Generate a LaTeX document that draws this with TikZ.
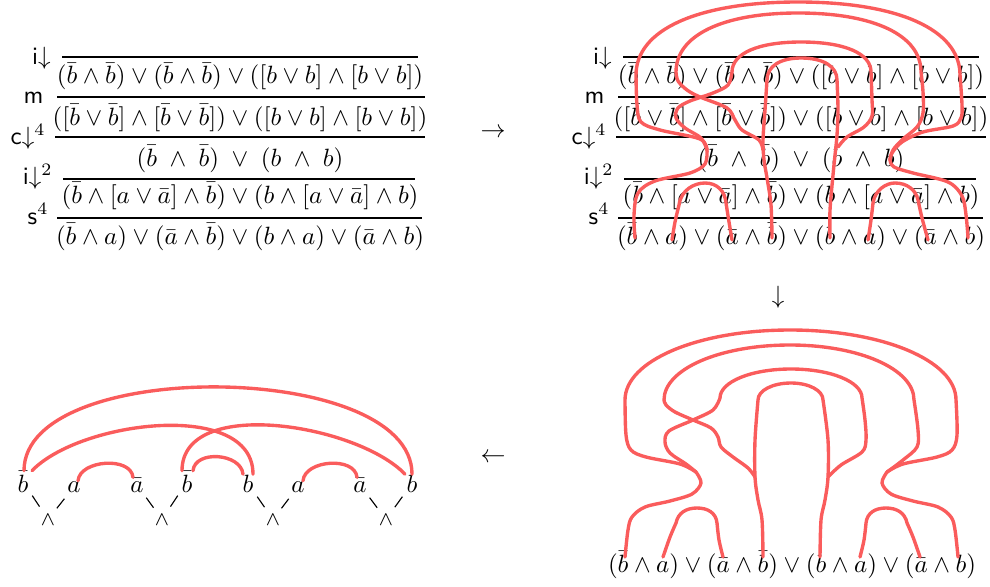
\documentclass[tikz,border=0pt]{standalone}
\usetikzlibrary{calc}
\definecolor{flowred}{RGB}{250,92,92}
\tikzset{
  flow/.style={draw=flowred, line width=1.35pt, line cap=round, line join=round},
  fml/.style={anchor=base, inner sep=0pt},
  rlab/.style={anchor=east, inner sep=0pt},
  infbar/.style={line width=0.45pt},
  leaf/.style={anchor=base, inner sep=0pt},
  tedge/.style={line width=0.45pt},
  sm/.style={smooth, tension=0.55},
}
\newcommand{\Deriv}[1]{%
  \draw[infbar] (62,57) -- (418,57);
  \node[fml] (#1f1) at (240,84) {$(\bar b\wedge\bar b)\vee(\bar b\wedge\bar b)\vee([b\vee b]\wedge[b\vee b])$};
  \draw[infbar] (57,97) -- (425,97);
  \node[fml] (#1f2) at (240,125) {$([\bar b\vee\bar b]\wedge[\bar b\vee\bar b])\vee([b\vee b]\wedge[b\vee b])$};
  \draw[infbar] (55,137) -- (425,137);
  \node[fml] (#1f3) at (240,166) {$(\bar b\;\wedge\;\bar b)\;\vee\;(b\;\wedge\;b)$};
  \draw[infbar] (63,179) -- (415,179);
  \node[fml] (#1f4) at (240,203) {$(\bar b\wedge[a\vee\bar a]\wedge\bar b)\vee(b\wedge[a\vee\bar a]\wedge b)$};
  \draw[infbar] (57,218) -- (422,218);
  \node[fml] (#1f5) at (240,244) {$(\bar b\wedge a)\vee(\bar a\wedge\bar b)\vee(b\wedge a)\vee(\bar a\wedge b)$};
  \node[rlab] (#1r1) at (51,58) {\textsf{i}$\downarrow$};
  \node[rlab] (#1r2) at (44,98) {\textsf{m}};
  \node[rlab] (#1r3) at (46,137) {\textsf{c}$\downarrow^4$};
  \node[rlab] (#1r4) at (53,177) {\textsf{i}$\downarrow^2$};
  \node[rlab] (#1r5) at (49,214) {\textsf{s}$^4$};
}
\newcommand{\wdg}{{\fontsize{8.5}{10}\selectfont$\wedge$}}
\begin{document}
\begin{tikzpicture}[x=0.4pt, y=-0.4pt]
\useasboundingbox (0,0) rectangle (990,586);

% ---------- top-left derivation
\Deriv{tl}

% ---------- top-right derivation with flow
\begin{scope}[shift={(561,0)}]
\Deriv{tr}
\end{scope}

% arrows between panels
\node (arrR) at (493,133) {$\rightarrow$};
\node (arrD) at (778,297) {$\downarrow$};
\node (arrL) at (493,458) {$\leftarrow$};

% flow over top-right derivation
\draw[flow] plot[sm] coordinates {(635,238) (634,215) (638,193) (655,181) (690,173) (705,164) (707,150)};
\draw[flow] plot[sm] coordinates {(707,150) (700,139) (660,130) (641,122) (637,105) (636,75)}
  .. controls (636,29.7) and (697.6,2) .. (798,2) .. controls (898.4,2) and (960,29.7) .. (960,75)
  -- plot[sm] coordinates {(960,75) (962,105) (961,118) (953,126) (923,132) (902,142) (892,153) (890,160)};
\draw[flow] plot[sm] coordinates {(707,150) (701,138) (685,128) (676,118) (678,108) (690,101) (713,93) (728,85) (732,72)}
  .. controls (732,53.4) and (758.2,42) .. (801,42) .. controls (844.4,42) and (871,53.4) .. (871,72)
  -- plot[sm] coordinates {(871,72) (872,100) (872,116) (864,127) (847,137) (838,147)};
\draw[flow] plot[sm] coordinates {(763,150) (759,140) (742,130) (735,120) (727,108) (700,97) (687,90) (678,81) (676,72)}
  .. controls (676,35.4) and (722.4,13) .. (798,13) .. controls (874.3,13) and (921,35.4) .. (921,72)
  -- plot[sm] coordinates {(921,72) (923,92) (923,113) (917,127) (903,139) (893,150) (890,160)};
\draw[flow] plot[sm] coordinates {(772,238) (771,205) (767,178) (764,160) (763,140) (765,110) (767,80)}
  .. controls (767,66.4) and (780,58) .. (801,58) .. controls (823.3,58) and (837,66.4) .. (837,80)
  -- plot[sm] coordinates {(837,80) (838,110) (837,135) (835,155) (833,175) (830,210) (830,238)};
\draw[flow] plot[sm] coordinates {(890,160) (894,167) (913,173) (948,182) (962,196) (966,215) (968,238)};
\draw[flow] plot[sm] coordinates {(672,240) (675,222) (679,205)}
  .. controls (681,190) and (694,183) .. (705,183) .. controls (717,183) and (725,191) .. (726,203)
  -- plot[sm] coordinates {(726,203) (729,222) (732,240)};
\draw[flow] plot[sm] coordinates {(868,240) (871,220) (873,203)}
  .. controls (875,190) and (886,183) .. (895,183) .. controls (907,183) and (916,190) .. (918,200)
  -- plot[sm] coordinates {(918,200) (922,218) (928,240)};

% ---------- bottom-right flow
\node[fml] (brf) at (792,572) {$(\bar b\wedge a)\vee(\bar a\wedge\bar b)\vee(b\wedge a)\vee(\bar a\wedge b)$};
\draw[flow] plot[sm] coordinates {(625,557) (628,530) (632,517) (645,507) (670,501) (692,494) (701,483) (696,472)};
\draw[flow] plot[sm] coordinates {(696,472) (680,464) (646,457) (631,450) (626,435) (625,400)}
  .. controls (625,360.8) and (697.6,330) .. (790,330) .. controls (883,330) and (956,360.8) .. (956,400)
  -- plot[sm] coordinates {(956,400) (957,435) (952,450) (937,457) (903,464) (887,472)};
\draw[flow] plot[sm] coordinates {(696,472) (686,464) (670,453) (665,442) (669,431) (693,420) (713,410) (720,398)}
  .. controls (720,381.8) and (751.2,369) .. (791,369) .. controls (830.8,369) and (862,381.8) .. (862,398)
  -- plot[sm] coordinates {(862,398) (865,420) (866,440) (862,452) (841,465) (828,477)};
\draw[flow] plot[sm] coordinates {(755,477) (748,468) (733,457) (721,447) (718,437) (711,428) (693,420) (675,412) (666,405) (664,400)}
  .. controls (664,369.2) and (719.4,345) .. (790,345) .. controls (859.4,345) and (914,369.2) .. (914,400)
  -- plot[sm] coordinates {(914,400) (918,430) (917,447) (903,460) (887,472)};
\draw[flow] plot[sm] coordinates {(763,557) (762,520) (758,500) (755,477) (755,440) (758,400)}
  .. controls (758,390.5) and (772.5,383) .. (791,383) .. controls (808.9,383) and (823,390.5) .. (823,400)
  -- plot[sm] coordinates {(823,400) (828,440) (828,477) (825,500) (821,520) (820,557)};
\draw[flow] plot[sm] coordinates {(887,472) (882,483) (891,494) (913,501) (938,507) (951,517) (955,530) (958,557)};
\draw[flow] plot[sm] coordinates {(663,557) (670,537) (676,523)}
  .. controls (678,513) and (686,508) .. (697,508) .. controls (708,508) and (716,513) .. (717,523)
  -- plot[sm] coordinates {(717,523) (719,540) (723,557)};
\draw[flow] plot[sm] coordinates {(920,557) (913,537) (907,523)}
  .. controls (905,513) and (897,508) .. (886,508) .. controls (875,508) and (867,513) .. (866,523)
  -- plot[sm] coordinates {(866,523) (864,540) (860,557)};

% ---------- bottom-left flow on formula tree
\node[leaf] (l1) at (23,492) {$\bar b$};
\node[leaf] (l2) at (74,492) {$a$};
\node[leaf] (l3) at (137,492) {$\bar a$};
\node[leaf] (l4) at (187,492) {$\bar b$};
\node[leaf] (l5) at (248,492) {$b$};
\node[leaf] (l6) at (298,492) {$a$};
\node[leaf] (l7) at (360,492) {$\bar a$};
\node[leaf] (l8) at (412,492) {$b$};
\node[leaf] (w1) at (48,525) {\wdg};
\node[leaf] (w2) at (162,525) {\wdg};
\node[leaf] (w3) at (273,525) {\wdg};
\node[leaf] (w4) at (386,525) {\wdg};
\foreach \a/\b/\w in {l1/l2/w1, l3/l4/w2, l5/l6/w3, l7/l8/w4}{
  \draw[tedge] ($(\a)!0.37!(\w)$) -- ($(\a)!0.66!(\w)$);
  \draw[tedge] ($(\b)!0.37!(\w)$) -- ($(\b)!0.66!(\w)$);
}
\draw[flow] ($(l1.north)+(1,0)$) .. controls +(0,-114) and +(0,-114) .. ($(l8.north)+(0,0)$);
\draw[flow] ($(l1.north)+(9,0)$) .. controls +(48,-50) and +(0,-75) .. ($(l5.north)+(5,0)$);
\draw[flow] ($(l4.north)+(-5,0)$) .. controls +(0,-75) and +(-48,-50) .. ($(l8.north)+(-7,0)$);
\draw[flow] ($(l2.north)+(4,0)$) .. controls +(2,-21) and +(-2,-21) .. ($(l3.north)+(-4,0)$);
\draw[flow] ($(l4.north)+(6,0)$) .. controls +(2,-21) and +(-2,-21) .. ($(l5.north)+(-5,0)$);
\draw[flow] ($(l6.north)+(5,0)$) .. controls +(2,-21) and +(-2,-21) .. ($(l7.north)+(-3,0)$);
\end{tikzpicture}
\end{document}
